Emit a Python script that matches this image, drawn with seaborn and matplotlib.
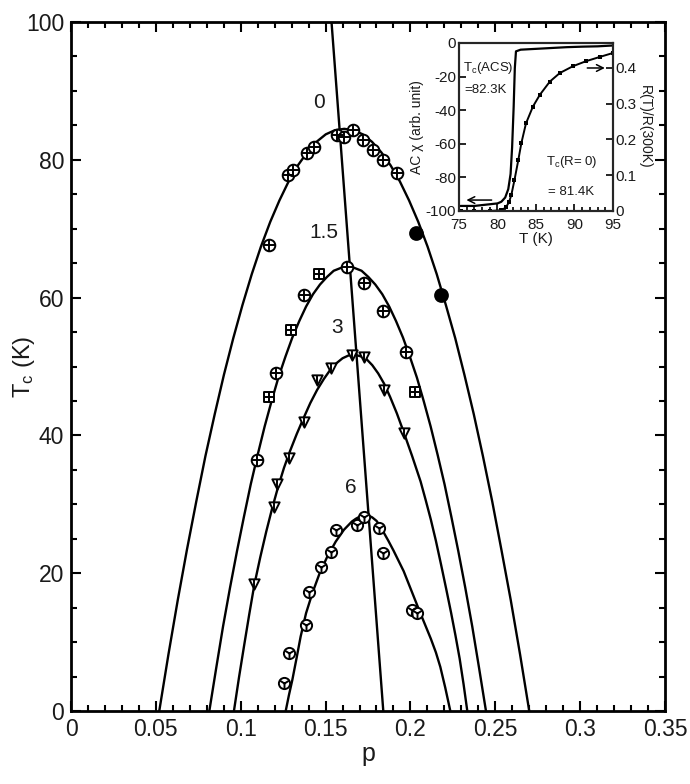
import matplotlib
matplotlib.use("Agg")
import matplotlib.pyplot as plt
from matplotlib.ticker import MultipleLocator
import seaborn as sns

sns.set_theme(style="ticks")
plt.rcParams['font.family'] = ['Liberation Sans', 'DejaVu Sans']
plt.rcParams['mathtext.fontset'] = 'custom'
plt.rcParams['mathtext.rm'] = 'Liberation Sans'
plt.rcParams['mathtext.it'] = 'Liberation Sans'
plt.rcParams['axes.unicode_minus'] = False

# fitted Tc(p) domes (pressure in GPa)
p_0 = [0.052, 0.0574, 0.0629, 0.0683, 0.0738, 0.0792, 0.0847, 0.0901, 0.0956, 0.101,
       0.1065, 0.1119, 0.1174, 0.1228, 0.1283, 0.1337, 0.1392, 0.1446, 0.1501, 0.1555,
       0.161, 0.1665, 0.1719, 0.1774, 0.1828, 0.1883, 0.1937, 0.1992, 0.2046, 0.2101,
       0.2155, 0.2209, 0.2264, 0.2318, 0.2373, 0.2427, 0.2482, 0.2536, 0.2591, 0.2646, 0.27]
t_0 = [0, 8.2, 16.1, 23.4, 30.4, 37.0, 43.1, 48.8, 54.1, 58.9,
       63.4, 67.4, 71.0, 74.1, 76.9, 79.2, 81.1, 82.6, 83.7, 84.3,
       84.5, 84.3, 83.7, 82.6, 81.1, 79.2, 76.9, 74.1, 71.0, 67.4,
       63.4, 58.9, 54.1, 48.8, 43.1, 37.0, 30.4, 23.4, 16.1, 8.2, 0]
p_15 = [0.0815, 0.0856, 0.0896, 0.0937, 0.0978, 0.1019, 0.1059, 0.11, 0.1141, 0.1182,
        0.1222, 0.1263, 0.1304, 0.1345, 0.1385, 0.1426, 0.1467, 0.1508, 0.1548, 0.1589,
        0.163, 0.1671, 0.1712, 0.1752, 0.1793, 0.1834, 0.1875, 0.1915, 0.1956, 0.1997,
        0.2038, 0.2078, 0.2119, 0.216, 0.2201, 0.2241, 0.2282, 0.2323, 0.2364, 0.2404, 0.2445]
t_15 = [0, 6.3, 12.3, 17.9, 23.2, 28.2, 32.9, 37.2, 41.3, 45.0,
        48.4, 51.4, 54.2, 56.6, 58.7, 60.5, 61.9, 63.0, 63.9, 64.3,
        64.5, 64.3, 63.9, 63.0, 61.9, 60.5, 58.7, 56.6, 54.2, 51.4,
        48.4, 45.0, 41.3, 37.2, 32.9, 28.2, 23.2, 17.9, 12.3, 6.3, 0]
p_3 = [0.096, 0.099, 0.102, 0.105, 0.108, 0.1115, 0.115, 0.1185, 0.122, 0.1255, 0.129,
       0.133, 0.137, 0.141, 0.145, 0.149, 0.153, 0.1565, 0.160, 0.1635, 0.167,
       0.1705, 0.174, 0.1775, 0.181, 0.1845, 0.188, 0.192, 0.196, 0.201, 0.206,
       0.209, 0.212, 0.215, 0.218, 0.221, 0.224, 0.2265, 0.229, 0.2313, 0.2335]
t_3 = [0, 4.9, 9.5, 14.0, 18.3, 22.3, 26.0, 29.4, 32.5, 35.3, 37.7,
       40.2, 42.5, 44.7, 46.6, 48.2, 49.6, 50.5, 51.2, 51.6, 51.7,
       51.5, 51.1, 50.2, 49.0, 47.5, 45.6, 43.2, 40.5, 37.0, 33.3,
       30.6, 27.8, 24.7, 21.3, 17.8, 14.2, 11.0, 7.6, 3.9, 0]
p_6 = [0.1265, 0.1284, 0.1304, 0.133, 0.1353, 0.1385, 0.1422, 0.1465, 0.151, 0.156,
       0.1608, 0.1655, 0.1678, 0.170, 0.1725, 0.175, 0.1775, 0.180, 0.1823, 0.1845,
       0.187, 0.190, 0.193, 0.196, 0.201, 0.206, 0.212, 0.215, 0.2176, 0.2205, 0.2235]
t_6 = [0, 2.3, 4.5, 7.8, 10.8, 14.2, 17.1, 20.0, 22.4, 24.6,
       26.3, 27.5, 27.9, 28.2, 28.35, 28.4, 28.1, 27.6, 26.8, 25.8,
       24.7, 23.3, 21.8, 20.3, 17.2, 14.1, 10.5, 8.5, 6.4, 3.4, 0]
p_max = [0.1535, 0.184]
t_max = [100, 0]

# measured points
p0_pts = [0.1165, 0.128, 0.131, 0.139, 0.143, 0.157, 0.161, 0.166, 0.172, 0.178, 0.184, 0.192]
t0_pts = [67.6, 77.8, 78.5, 81.0, 81.9, 83.6, 83.3, 84.3, 82.9, 81.4, 80.0, 78.1]
p0_fill = [0.203, 0.218]
t0_fill = [69.4, 60.4]
p15_circ = [0.1098, 0.1206, 0.1373, 0.1627, 0.1725, 0.184, 0.1971]
t15_circ = [36.4, 49.0, 60.4, 64.5, 62.1, 58.0, 52.1]
p15_sq = [0.1167, 0.1294, 0.1461, 0.2029]
t15_sq = [45.6, 55.3, 63.5, 46.3]
p3_pts = [0.1078, 0.1194, 0.1216, 0.1284, 0.1373, 0.1451, 0.1529, 0.1657, 0.1725, 0.1843, 0.1961]
t3_pts = [18.5, 29.6, 33.0, 36.7, 42.0, 48.0, 49.8, 51.7, 51.4, 46.6, 40.3]
p6_pts = [0.1255, 0.1284, 0.1382, 0.1402, 0.1471, 0.1529, 0.1559, 0.1686, 0.1725,
          0.1812, 0.1841, 0.2010, 0.2039]
t6_pts = [4.0, 8.4, 12.5, 17.3, 20.9, 23.1, 26.3, 27.0, 28.2, 26.6, 22.9, 14.7, 14.2]

curve_labels = ["0", "1.5", "3", "6"]
label_p = [0.146, 0.149, 0.157, 0.165]
label_t = [88.3, 69.5, 55.6, 32.5]

# inset: AC susceptibility and resistance
chi_T = [75.2, 76, 77, 78, 79, 80, 80.5, 81, 81.4, 81.7, 81.9, 82.1, 82.25, 82.4,
         83, 85, 87, 89, 91, 93, 95]
chi_v = [-97, -97, -97, -96.5, -96, -95.5, -94.5, -92, -87, -78, -62, -38, -15, -5,
         -4, -3.5, -3, -2.5, -2.2, -2, -1.5]
R_T = [75.2, 77, 79, 80.5, 81.1, 81.5, 81.8, 82.2, 82.7, 83.1, 83.7, 84.6, 85.5,
       86.8, 88.1, 89.8, 91.5, 93.3, 95]
R_v = [0, 0, 0, 0.002, 0.01, 0.025, 0.045, 0.086, 0.142, 0.19, 0.245, 0.292, 0.325,
       0.362, 0.386, 0.405, 0.419, 0.431, 0.442]

ink = '#1a1a1a'
fig = plt.figure(figsize=(6.9, 7.84), dpi=100)
ax = fig.add_axes([0.1029, 0.0931, 0.8609, 0.8788])

for px, ty in [(p_0, t_0), (p_15, t_15), (p_3, t_3), (p_6, t_6)]:
    sns.lineplot(x=px, y=ty, sort=False, estimator=None, color='black', lw=1.7, ax=ax)
sns.lineplot(x=p_max, y=t_max, sort=False, estimator=None, color='black', lw=1.7, ax=ax)


def pts(px, ty, outer, inner, s=70, fill='white'):
    sns.scatterplot(x=px, y=ty, marker=outer, s=s, facecolor=fill, edgecolor='black',
                    linewidth=1.4, zorder=5, ax=ax)
    if inner:
        sns.scatterplot(x=px, y=ty, marker=inner, s=s * 0.9, color='black',
                        linewidth=1.4, zorder=6, ax=ax)


pts(p0_pts, t0_pts, 'o', '+')
pts(p0_fill, t0_fill, 'o', None, s=85, fill='black')
pts(p15_circ, t15_circ, 'o', '+')
pts(p15_sq, t15_sq, 's', '+', s=55)
pts(p3_pts, t3_pts, 'v', '|', s=55)
pts(p6_pts, t6_pts, 'o', '1', s=65)

for lab, lp, lt in zip(curve_labels, label_p, label_t):
    ax.text(lp, lt, lab, fontsize=15, ha='center', va='center', color=ink)

ax.set_xlim(0, 0.35)
ax.set_ylim(0, 100)
ax.set_xticks([0, 0.05, 0.1, 0.15, 0.2, 0.25, 0.3, 0.35])
ax.set_xticklabels(["0", "0.05", "0.1", "0.15", "0.2", "0.25", "0.3", "0.35"])
ax.xaxis.set_minor_locator(MultipleLocator(0.01))
ax.yaxis.set_major_locator(MultipleLocator(20))
ax.yaxis.set_minor_locator(MultipleLocator(5))
ax.tick_params(which='both', direction='in', top=True, right=True, labelsize=16.5,
               width=1.5, color='black', labelcolor=ink, pad=5)
ax.tick_params(which='major', length=7)
ax.tick_params(which='minor', length=4)
for sp in ax.spines.values():
    sp.set_linewidth(2)
    sp.set_color('black')
ax.set_xlabel("p", fontsize=18, labelpad=1, color=ink)
ax.set_ylabel(r"$\mathregular{T_c}$ (K)", fontsize=17, color=ink)
ax.yaxis.set_label_coords(-0.057, 0.5)

# inset
axi = fig.add_axes([0.6652, 0.7309, 0.2232, 0.2143])
sns.lineplot(x=chi_T, y=chi_v, sort=False, estimator=None, color='black', lw=1.6, ax=axi)
axi.set_xlim(75, 95)
axi.set_ylim(-100, 0)
axi.xaxis.set_major_locator(MultipleLocator(5))
axi.xaxis.set_minor_locator(MultipleLocator(1))
axi.yaxis.set_major_locator(MultipleLocator(20))
axi.tick_params(which='both', direction='in', labelsize=11, width=1.2, color='black',
                labelcolor=ink, pad=2)
axi.tick_params(axis='x', pad=5)
axi.tick_params(which='major', length=5)
axi.tick_params(which='minor', length=3)
axi.set_xlabel("T (K)", fontsize=11, labelpad=0, color=ink)
axi.set_ylabel("AC χ (arb. unit)", fontsize=10, labelpad=1, color=ink)
for sp in axi.spines.values():
    sp.set_linewidth(1.5)
    sp.set_color('black')

axr = axi.twinx()
sns.lineplot(x=R_T, y=R_v, sort=False, estimator=None, color='black', lw=1.4,
             marker='s', markersize=2.5, markeredgewidth=0, ax=axr)
axr.set_ylim(0, 0.47)
axr.set_yticks([0, 0.1, 0.2, 0.3, 0.4])
axr.set_yticklabels(["0", "0.1", "0.2", "0.3", "0.4"])
axr.tick_params(direction='in', labelsize=11, width=1.2, length=5, color='black',
                labelcolor=ink, pad=2)
axr.set_ylabel("R(T)/R(300K)", fontsize=10, rotation=270, labelpad=11, color=ink)
for sp in axr.spines.values():
    sp.set_linewidth(1.5)

axi.annotate('', xy=(75.6, -93.5), xytext=(79.6, -93.5),
             arrowprops=dict(arrowstyle='->', lw=1.1, color='black'))
axr.annotate('', xy=(94.3, 0.40), xytext=(91.3, 0.40),
             arrowprops=dict(arrowstyle='->', lw=1.1, color='black'))
axi.text(75.5, -15, r"$\mathregular{T_c}$(ACS)", fontsize=9.5, va='center', color=ink)
axi.text(75.7, -28, "=82.3K", fontsize=9.5, va='center', color=ink)
axi.text(86.3, -71, r"$\mathregular{T_c}$(R= 0)", fontsize=9.5, va='center', color=ink)
axi.text(86.6, -89, "= 81.4K", fontsize=9.5, va='center', color=ink)

fig.savefig("out.png", dpi=100)
